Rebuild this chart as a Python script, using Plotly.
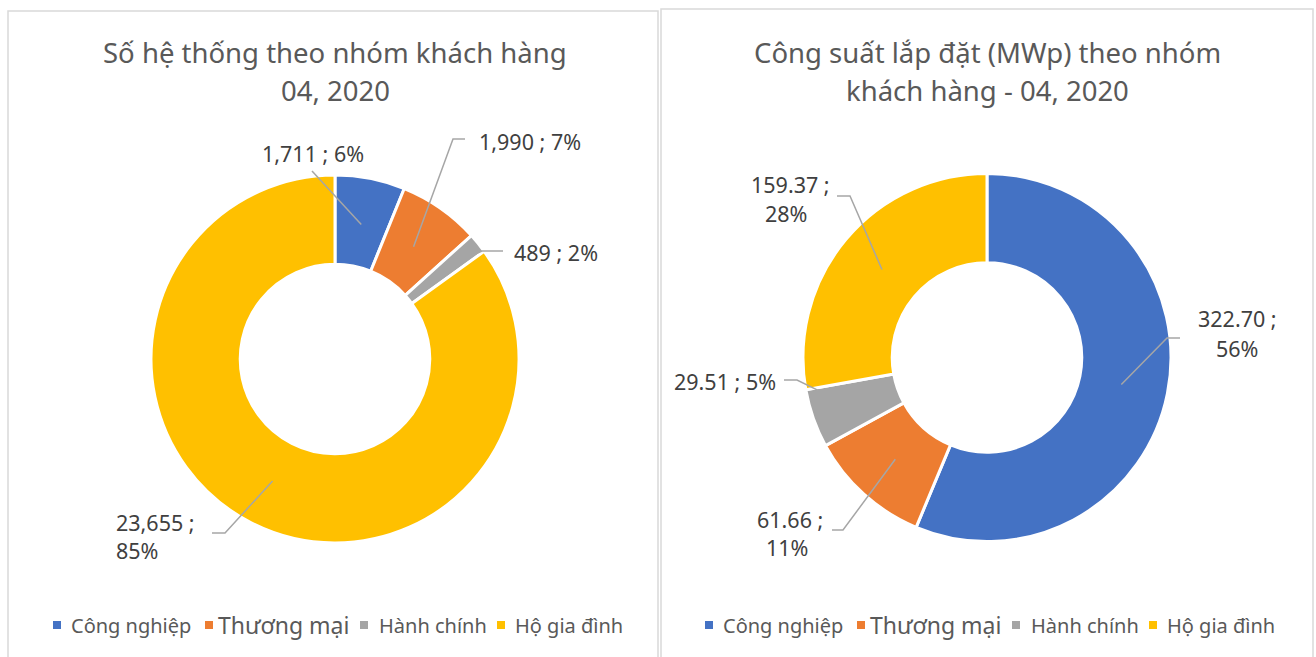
import math
import plotly.graph_objects as go

W, H = 1316, 657

categories = ["Công nghiệp", "Thương mại", "Hành chính", "Hộ gia đình"]
systems = [1711, 1990, 489, 23655]
systems_text = ["1,711", "1,990", "489", "23,655"]
capacity = [322.70, 61.66, 29.51, 159.37]
capacity_text = ["322.70", "61.66", "29.51", "159.37"]
colors = ["#4472C4", "#ED7D31", "#A5A5A5", "#FFC000"]
legend_font_sizes = [20, 23, 20, 20]

title_left = ["Số hệ thống theo nhóm khách hàng", "04, 2020"]
title_right = ["Công suất lắp đặt (MWp) theo nhóm", "khách hàng - 04, 2020"]

FONT = "Noto Sans"
LABEL_C = "#404040"
TITLE_C = "#595959"
LEAD_C = "#A6A6A6"
TITLE_SIZE = 27.5
LABEL_SIZE = 21.5

# pie geometry (pixels)
R = 184
left_c = (335, 359)
right_c = (987, 357.5)


def px(x):
    return x / W


def py(y):
    return 1 - y / H


def dom(c):
    return dict(x=[px(c[0] - R), px(c[0] + R)], y=[py(c[1] + R), py(c[1] - R)])


fig = go.Figure()
fig.add_trace(go.Pie(
    labels=categories, values=systems, sort=False, direction="clockwise", rotation=0,
    hole=0.515, marker=dict(colors=colors, line=dict(color="white", width=3)),
    textinfo="none", hoverinfo="label+value+percent", domain=dom(left_c), showlegend=False,
))
fig.add_trace(go.Pie(
    labels=categories, values=capacity, sort=False, direction="clockwise", rotation=0,
    hole=0.515, marker=dict(colors=colors, line=dict(color="white", width=3)),
    textinfo="none", hoverinfo="label+value+percent", domain=dom(right_c), showlegend=False,
))

annotations = []
shapes = []


def text_line(x, y, s, size, color, anchor="center"):
    annotations.append(dict(x=px(x), y=py(y), xref="paper", yref="paper", text=s,
                            showarrow=False, xanchor=anchor, yanchor="middle",
                            font=dict(family=FONT, size=size, color=color)))


# titles
text_line(335, 52, title_left[0], TITLE_SIZE, TITLE_C)
text_line(335, 90, title_left[1], TITLE_SIZE, TITLE_C)
text_line(987, 52, title_right[0], TITLE_SIZE, TITLE_C)
text_line(987, 90, title_right[1], TITLE_SIZE, TITLE_C)


def mid_point(values, i, center, r, shift=0.0):
    tot = sum(values)
    start = sum(values[:i]) / tot
    frac = (start + values[i] / tot * (0.5 + shift)) * 2 * math.pi
    return center[0] + r * math.sin(frac), center[1] - r * math.cos(frac)


def leader(values, i, center, r, pts, shift=0.0):
    ex, ey = mid_point(values, i, center, r, shift)
    path = "M " + " L ".join(f"{px(x)},{py(y)}" for x, y in pts + [(ex, ey)])
    shapes.append(dict(type="path", path=path, xref="paper", yref="paper",
                       line=dict(color=LEAD_C, width=1.5)))


def pct(values, i):
    return f"{round(values[i] / sum(values) * 100)}%"


# left labels
text_line(313, 153, f"{systems_text[0]} ; {pct(systems, 0)}", LABEL_SIZE, LABEL_C)
leader(systems, 0, left_c, 137, [(312, 171)])
text_line(530, 141, f"{systems_text[1]} ; {pct(systems, 1)}", LABEL_SIZE, LABEL_C)
leader(systems, 1, left_c, 137, [(465, 139), (453, 139)])
text_line(556, 252, f"{systems_text[2]} ; {pct(systems, 2)}", LABEL_SIZE, LABEL_C)
leader(systems, 2, left_c, 172, [(503, 251), (482, 251)], shift=0.3)
text_line(155, 522, f"{systems_text[3]} ;", LABEL_SIZE, LABEL_C)
text_line(137, 550, pct(systems, 3), LABEL_SIZE, LABEL_C)
leader(systems, 3, left_c, 137, [(212, 533), (225, 533)])

# right labels
text_line(1237, 318, f"{capacity_text[0]} ;", LABEL_SIZE, LABEL_C)
text_line(1237, 348, pct(capacity, 0), LABEL_SIZE, LABEL_C)
leader(capacity, 0, right_c, 137, [(1180, 338), (1167, 338)])
text_line(790, 519, f"{capacity_text[1]} ;", LABEL_SIZE, LABEL_C)
text_line(787, 547, pct(capacity, 1), LABEL_SIZE, LABEL_C)
leader(capacity, 1, right_c, 137, [(832, 530), (843, 530)])
text_line(725, 381, f"{capacity_text[2]} ; {pct(capacity, 2)}", LABEL_SIZE, LABEL_C)
leader(capacity, 2, right_c, 172, [(784, 380), (797, 380)], shift=0.45)
text_line(790, 184, f"{capacity_text[3]} ;", LABEL_SIZE, LABEL_C)
text_line(786, 213, pct(capacity, 3), LABEL_SIZE, LABEL_C)
leader(capacity, 3, right_c, 137, [(837, 196), (850, 196)])

# legends (one per panel)
legend_sq_x = [57, 209, 364, 501]
legend_txt_x = [69, 216, 377, 513]
LEG_Y = 625
for off in (0, 652):
    for i, name in enumerate(categories):
        cx = legend_sq_x[i] + off
        shapes.append(dict(type="rect", xref="paper", yref="paper",
                           x0=px(cx - 4), x1=px(cx + 4), y0=py(LEG_Y + 4), y1=py(LEG_Y - 4),
                           fillcolor=colors[i], line=dict(width=0)))
        text_line(legend_txt_x[i] + off, LEG_Y, name, legend_font_sizes[i], TITLE_C, anchor="left")

# panel borders
shapes.append(dict(type="rect", xref="paper", yref="paper", x0=px(8), x1=px(658), y0=py(700), y1=py(11),
                   line=dict(color="#D9D9D9", width=1.5), layer="below"))
shapes.append(dict(type="rect", xref="paper", yref="paper", x0=px(661), x1=px(1313), y0=py(700), y1=py(9),
                   line=dict(color="#D9D9D9", width=1.5), layer="below"))

fig.update_layout(
    width=W, height=H, margin=dict(l=0, r=0, t=0, b=0),
    paper_bgcolor="white", plot_bgcolor="white",
    showlegend=False,
    annotations=annotations, shapes=shapes,
)

fig.write_html("out.html", config={"displayModeBar": False},
               post_script="document.body.style.margin='0';document.body.style.overflow='hidden';")
